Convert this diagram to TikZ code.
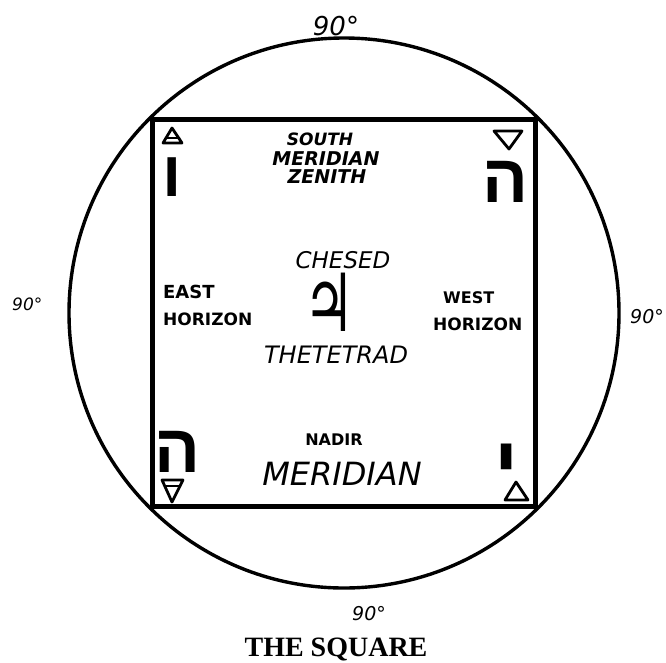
\documentclass[tikz,border=0pt]{standalone}
\usepackage{fontspec}
\setmainfont{DejaVu Sans}
\newfontfamily\hand{DejaVu Sans}
\newfontfamily\heb[Script=Hebrew]{Liberation Sans}
\newfontfamily\capfont{Liberation Serif}
\TeXXeTstate=1
\newcommand{\fs}[1]{\fontsize{#1}{#1}\selectfont}
\begin{document}
\begin{tikzpicture}[x=1pt,y=-1pt,
  lbl/.style={inner sep=0pt, anchor=base},
  lblw/.style={inner sep=0pt, anchor=base west},
  hebl/.style={inner sep=0pt, anchor=north},
  sym/.style={line width=2.8pt, line join=round, line cap=round},
  frame/.style={line width=5pt},
  ring/.style={line width=3.4pt}]
\useasboundingbox (0,0) rectangle (666,662);
% circle and square
\coordinate (c) at (344,313);
\draw[ring] (c) circle[radius=275];
\coordinate (tl) at (152,119);
\coordinate (br) at (535,506);
\draw[frame] (tl) rectangle (br);
% degree labels
\node[lbl, font=\hand\itshape\fs{26}] (dtop) at (336,35) {90°};
\node[lblw, font=\hand\itshape\fs{17}] (dleft) at (12,310) {90°};
\node[lblw, font=\hand\itshape\fs{19}] (dbot) at (352,620) {90°};
\node[lblw, font=\hand\itshape\fs{19}] (dright) at (630,323) {90°};
% top labels
\node[lbl, font=\hand\bfseries\itshape\fs{17}] (south) at (320,145) {SOUTH};
\node[lbl, font=\hand\bfseries\itshape\fs{19}] (smer) at (326,165) {MERIDIAN};
\node[lbl, font=\hand\bfseries\itshape\fs{19}] (zen) at (327,183) {ZENITH};
% centre
\node[lbl, font=\hand\itshape\fs{23}] (chesed) at (343,268) {CHESED};
\node[lbl, font=\hand\fs{80}] (jup) at (329,331) {\scalebox{0.72}[1]{♃}};
\node[lbl, font=\hand\itshape\fs{24}] (tetrad) at (336,363) {THETETRAD};
% sides
\node[lblw, font=\hand\bfseries\fs{18}] (east) at (163,298) {EAST};
\node[lblw, font=\hand\bfseries\fs{17}] (hl) at (163,325) {HORIZON};
\node[lblw, font=\hand\bfseries\fs{16}] (west) at (443,303) {WEST};
\node[lblw, font=\hand\bfseries\fs{17}] (hr) at (433,330) {HORIZON};
% bottom labels
\node[lbl, font=\hand\bfseries\fs{16}] (nadir) at (334,445) {NADIR};
\node[lbl, font=\hand\itshape\fs{32}] (bmer) at (342,485) {MERIDIAN};
% hebrew letters
\node[hebl, font=\heb\bfseries\fs{64}] (vav) at (172,158) {\beginR ו\endR};
\node[hebl, font=\heb\bfseries\fs{68}] (heTR) at (505,161) {\beginR ה\endR};
\node[hebl, font=\heb\bfseries\fs{68}] (heBL) at (177,431) {\beginR ה\endR};
\node[hebl, font=\heb\bfseries\fs{80}] (yod) at (507,444) {\beginR י\endR};
% elemental triangles
\draw[sym] (172,128) -- (182,143) -- (163,143) -- cycle;
\draw[sym] (166,138) -- (179,138);
\draw[sym] (494,131) -- (522,131) -- (509,149) -- cycle;
\draw[sym] (162,480) -- (183,480) -- (172,502) -- cycle;
\draw[sym] (165,486) -- (180,486);
\draw[sym] (505,500) -- (528,500) -- (516,482) -- cycle;
% caption
\node[lbl, font=\capfont\bfseries\fs{28}] (cap) at (336,656) {THE SQUARE};
\end{tikzpicture}
\end{document}
